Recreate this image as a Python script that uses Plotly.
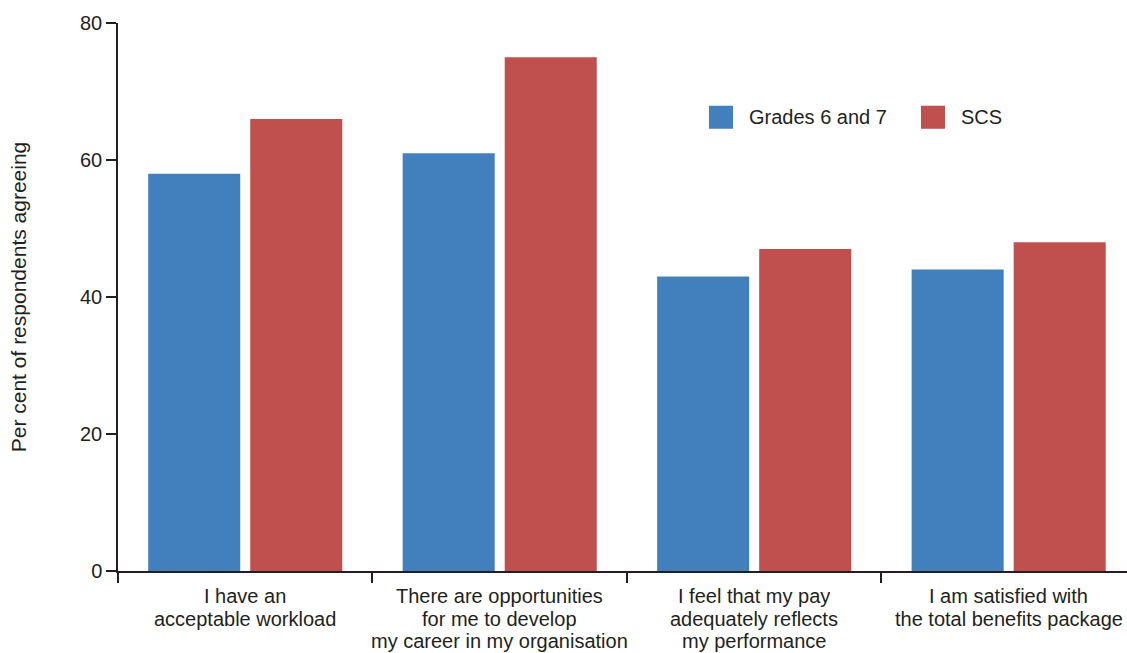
import plotly.graph_objects as go

# Survey statements (x-axis categories); "<br>" marks label line breaks
categories = [
    "I have an<br>acceptable workload",
    "There are opportunities<br>for me to develop<br>my career in my organisation",
    "I feel that my pay<br>adequately reflects<br>my performance",
    "I am satisfied with<br>the total benefits package",
]

# Per cent of respondents agreeing
grades_6_7 = [58, 61, 43, 44]
scs = [66, 75, 47, 48]

series_names = ["Grades 6 and 7", "SCS"]
series_colors = ["#427fbd", "#c0504d"]

y_ticks = [0, 20, 40, 60, 80]

FONT = "Liberation Sans, Arial, sans-serif"
TEXT = "#231f20"

fig = go.Figure()
for name, vals, col in zip(series_names, [grades_6_7, scs], series_colors):
    fig.add_trace(go.Bar(
        x=categories, y=vals, name=name,
        marker=dict(color=col, line=dict(width=0)),
        showlegend=False,
    ))

# Category labels, one annotation per line for tight line spacing
LINE_H = 22.5
for cat in categories:
    for i, line in enumerate(cat.split("<br>")):
        fig.add_annotation(xref="x", yref="paper", x=cat, y=0,
                           yshift=-25 - LINE_H * i, text=line, showarrow=False,
                           xanchor="center", yanchor="middle",
                           height=22, valign="middle", borderpad=0,
                           font=dict(size=20, color=TEXT, family=FONT))

# Legend: large square swatches with labels
legend_x = [0.5857, 0.7958]
for lx, name, col in zip(legend_x, series_names, series_colors):
    fig.add_shape(type="rect", xref="paper", yref="paper",
                  x0=lx, x1=lx + 0.0238, y0=0.807, y1=0.849,
                  fillcolor=col, line=dict(width=0))
    fig.add_annotation(xref="paper", yref="paper", x=lx + 0.0377, y=0.828,
                       text=name, showarrow=False, xanchor="left", yanchor="middle",
                       font=dict(size=20, color=TEXT, family=FONT))

fig.update_layout(
    width=1127, height=653,
    margin=dict(l=118, r=0, t=23, b=82),
    paper_bgcolor="white", plot_bgcolor="white",
    barmode="group", bargap=0.198, bargroupgap=0.098,
    font=dict(family=FONT, size=20, color=TEXT),
    xaxis=dict(
        type="category", range=[-0.5, 3.465],
        showline=True, linecolor=TEXT, linewidth=1.5,
        ticks="outside", tickson="boundaries", ticklen=10, tickcolor=TEXT,
        tickwidth=1.5, showgrid=False, zeroline=False, showticklabels=False,
    ),
    yaxis=dict(
        range=[0, 80], tickvals=y_ticks,
        showline=True, linecolor=TEXT, linewidth=1.5,
        ticks="outside", ticklen=10, tickcolor=TEXT, tickwidth=1.5,
        showgrid=False, zeroline=False,
        tickfont=dict(size=20, color=TEXT, family=FONT),
        title=dict(text="Per cent of respondents agreeing", standoff=48,
                   font=dict(size=21, color=TEXT, family=FONT)),
    ),
)

fig.write_html("out.html")
